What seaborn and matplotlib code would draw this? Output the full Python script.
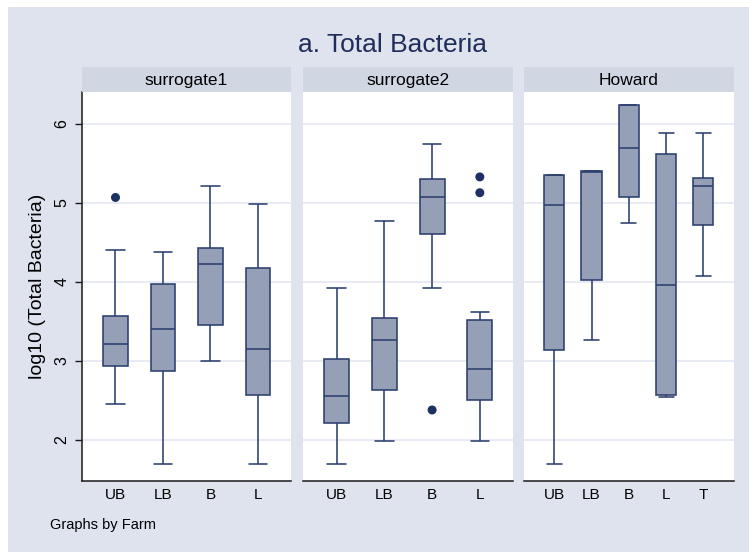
import numpy as np
import pandas as pd
import matplotlib
matplotlib.use("Agg")
import matplotlib.pyplot as plt
from matplotlib.patches import Rectangle
import seaborn as sns

# ---- summary values (log10 total bacteria) per farm and location ----
farms = ["surrogate1", "surrogate2", "Howard"]

s1_locs = ["UB", "LB", "B", "L"]
s1_low = [2.46, 1.69, 3.00, 1.69]
s1_q1 = [2.94, 2.87, 3.46, 2.57]
s1_med = [3.21, 3.40, 4.23, 3.15]
s1_q3 = [3.57, 3.98, 4.43, 4.18]
s1_high = [4.41, 4.38, 5.21, 4.99]

s2_locs = ["UB", "LB", "B", "L"]
s2_low = [1.69, 1.99, 3.93, 1.99]
s2_q1 = [2.22, 2.63, 4.61, 2.50]
s2_med = [2.56, 3.26, 5.08, 2.90]
s2_q3 = [3.03, 3.55, 5.30, 3.52]
s2_high = [3.93, 4.77, 5.75, 3.62]

hw_locs = ["UB", "LB", "B", "L", "T"]
hw_low = [1.69, 3.26, 4.75, 2.54, 4.07]
hw_q1 = [3.14, 4.03, 5.07, 2.57, 4.72]
hw_med = [4.97, 5.39, 5.70, 3.96, 5.21]
hw_q3 = [5.35, 5.40, 6.24, 5.62, 5.32]
hw_high = [5.35, 5.40, 6.24, 5.89, 5.89]

# outside values
out_farm = ["surrogate1", "surrogate2", "surrogate2", "surrogate2"]
out_loc = ["UB", "B", "L", "L"]
out_val = [5.07, 2.38, 5.33, 5.13]

yticks = [2, 3, 4, 5, 6]
title = "a. Total Bacteria"
ylabel = "log10 (Total Bacteria)"
note = "Graphs by Farm"

# ---- long-form table: five summary values per box ----
summary = {
    "surrogate1": (s1_locs, s1_low, s1_q1, s1_med, s1_q3, s1_high),
    "surrogate2": (s2_locs, s2_low, s2_q1, s2_med, s2_q3, s2_high),
    "Howard": (hw_locs, hw_low, hw_q1, hw_med, hw_q3, hw_high),
}
rows = []
for farm, (locs, lo, q1, md, q3, hi) in summary.items():
    for i, loc in enumerate(locs):
        for v in (lo[i], q1[i], md[i], q3[i], hi[i]):
            rows.append({"Farm": farm, "Location": loc, "value": v})
df = pd.DataFrame(rows)
outliers = pd.DataFrame({"Farm": out_farm, "Location": out_loc, "value": out_val})

# ---- styling ----
sns.set_theme(style="white")
plt.rcParams["font.family"] = ["Liberation Sans", "DejaVu Sans"]
plt.rcParams["text.color"] = "black"
plt.rcParams["xtick.color"] = "black"
plt.rcParams["ytick.color"] = "black"

BG = "#DEE3EE"
STRIP = "#D1D7E2"
FILL = "#95A0B7"
EDGE = "#2B3F6E"
DOT = "#1E3163"
GRID = "#E4E8F1"

W, H = 749, 552
fig = plt.figure(figsize=(W / 100, H / 100), dpi=100, facecolor="white")
fig.patches.append(Rectangle((8 / W, 0), (W - 8) / W, (H - 7) / H,
                             transform=fig.transFigure, facecolor=BG,
                             edgecolor="none", zorder=-10))

def px_box(x0, x1, ytop, ybot):
    return [x0 / W, 1 - ybot / H, (x1 - x0) / W, (ybot - ytop) / H]

panel_x = [(82, 291), (303, 513), (524, 734)]
plot_top, plot_bot = 92, 481
strip_top = 67
xlims = [(-0.705, 3.695), (-0.705, 3.695), (-0.81, 4.82)]
box_w = [0.52, 0.52, 0.54]

for k, farm in enumerate(farms):
    x0, x1 = panel_x[k]
    ax = fig.add_axes(px_box(x0, x1, plot_top, plot_bot))
    ax.set_facecolor("white")
    locs = summary[farm][0]
    sub = df[df["Farm"] == farm]
    sns.boxplot(data=sub, x="Location", y="value", order=locs, ax=ax,
                width=box_w[k], color=FILL, linecolor=EDGE, linewidth=1.15,
                saturation=1, whis=1.5, showfliers=False)
    # caps at three quarters of the box width
    half = box_w[k] * 0.75 / 2
    for ln in ax.lines:
        xd = np.asarray(ln.get_xdata(), float)
        yd = np.asarray(ln.get_ydata(), float)
        if len(xd) == 2 and yd[0] == yd[1] and 0 < abs(xd[1] - xd[0]) < 0.9 * box_w[k]:
            c = xd.mean()
            ln.set_xdata([c - half, c + half])
    osub = outliers[outliers["Farm"] == farm]
    if len(osub):
        sns.scatterplot(data=osub, x="Location", y="value", ax=ax, color=DOT,
                        s=42, edgecolor="none", zorder=5, legend=False)
    ax.set_xlim(*xlims[k])
    ax.set_ylim(1.481, 6.405)
    ax.set_xticks(range(len(locs)))
    ax.set_xticklabels(locs, fontsize=11, color="black")
    ax.tick_params(axis="x", length=0, pad=5)
    ax.set_yticks(yticks)
    ax.yaxis.grid(True, color=GRID, linewidth=1.2)
    ax.xaxis.grid(False)
    ax.set_axisbelow(True)
    ax.set_xlabel("")
    ax.set_ylabel("")
    for s in ("top", "right"):
        ax.spines[s].set_visible(False)
    ax.spines["bottom"].set_color("#1a1a1a")
    ax.spines["bottom"].set_linewidth(1.1)
    if k == 0:
        ax.spines["left"].set_color("#1a1a1a")
        ax.spines["left"].set_linewidth(1.1)
        ax.tick_params(axis="y", left=True, length=5, width=1.0, color="#1a1a1a",
                       pad=4)
        ax.set_yticklabels([str(t) for t in yticks], fontsize=11.5,
                           color="black", rotation=90, va="center")
    else:
        ax.spines["left"].set_visible(False)
        ax.tick_params(axis="y", left=False, labelleft=False)

    sax = fig.add_axes(px_box(x0, x1, strip_top, plot_top))
    sax.set_facecolor(STRIP)
    sax.set_xticks([])
    sax.set_yticks([])
    for s in sax.spines.values():
        s.set_visible(False)
    fig.text((x0 + x1) / 2 / W, 1 - 85 / H, farm, ha="center", va="baseline",
             fontsize=12.5, color="black")

fig.text(393 / W, 1 - 52 / H, title, ha="center", va="baseline",
         fontsize=19, color="#1F2D5A")
fig.text(37.5 / W, 1 - 286 / H, ylabel, ha="center", va="center",
         rotation=90, fontsize=14, color="black")
fig.text(50 / W, 1 - 529 / H, note, ha="left", va="baseline",
         fontsize=10.5, color="black")

fig.savefig("out.png", dpi=100, facecolor=fig.get_facecolor())
